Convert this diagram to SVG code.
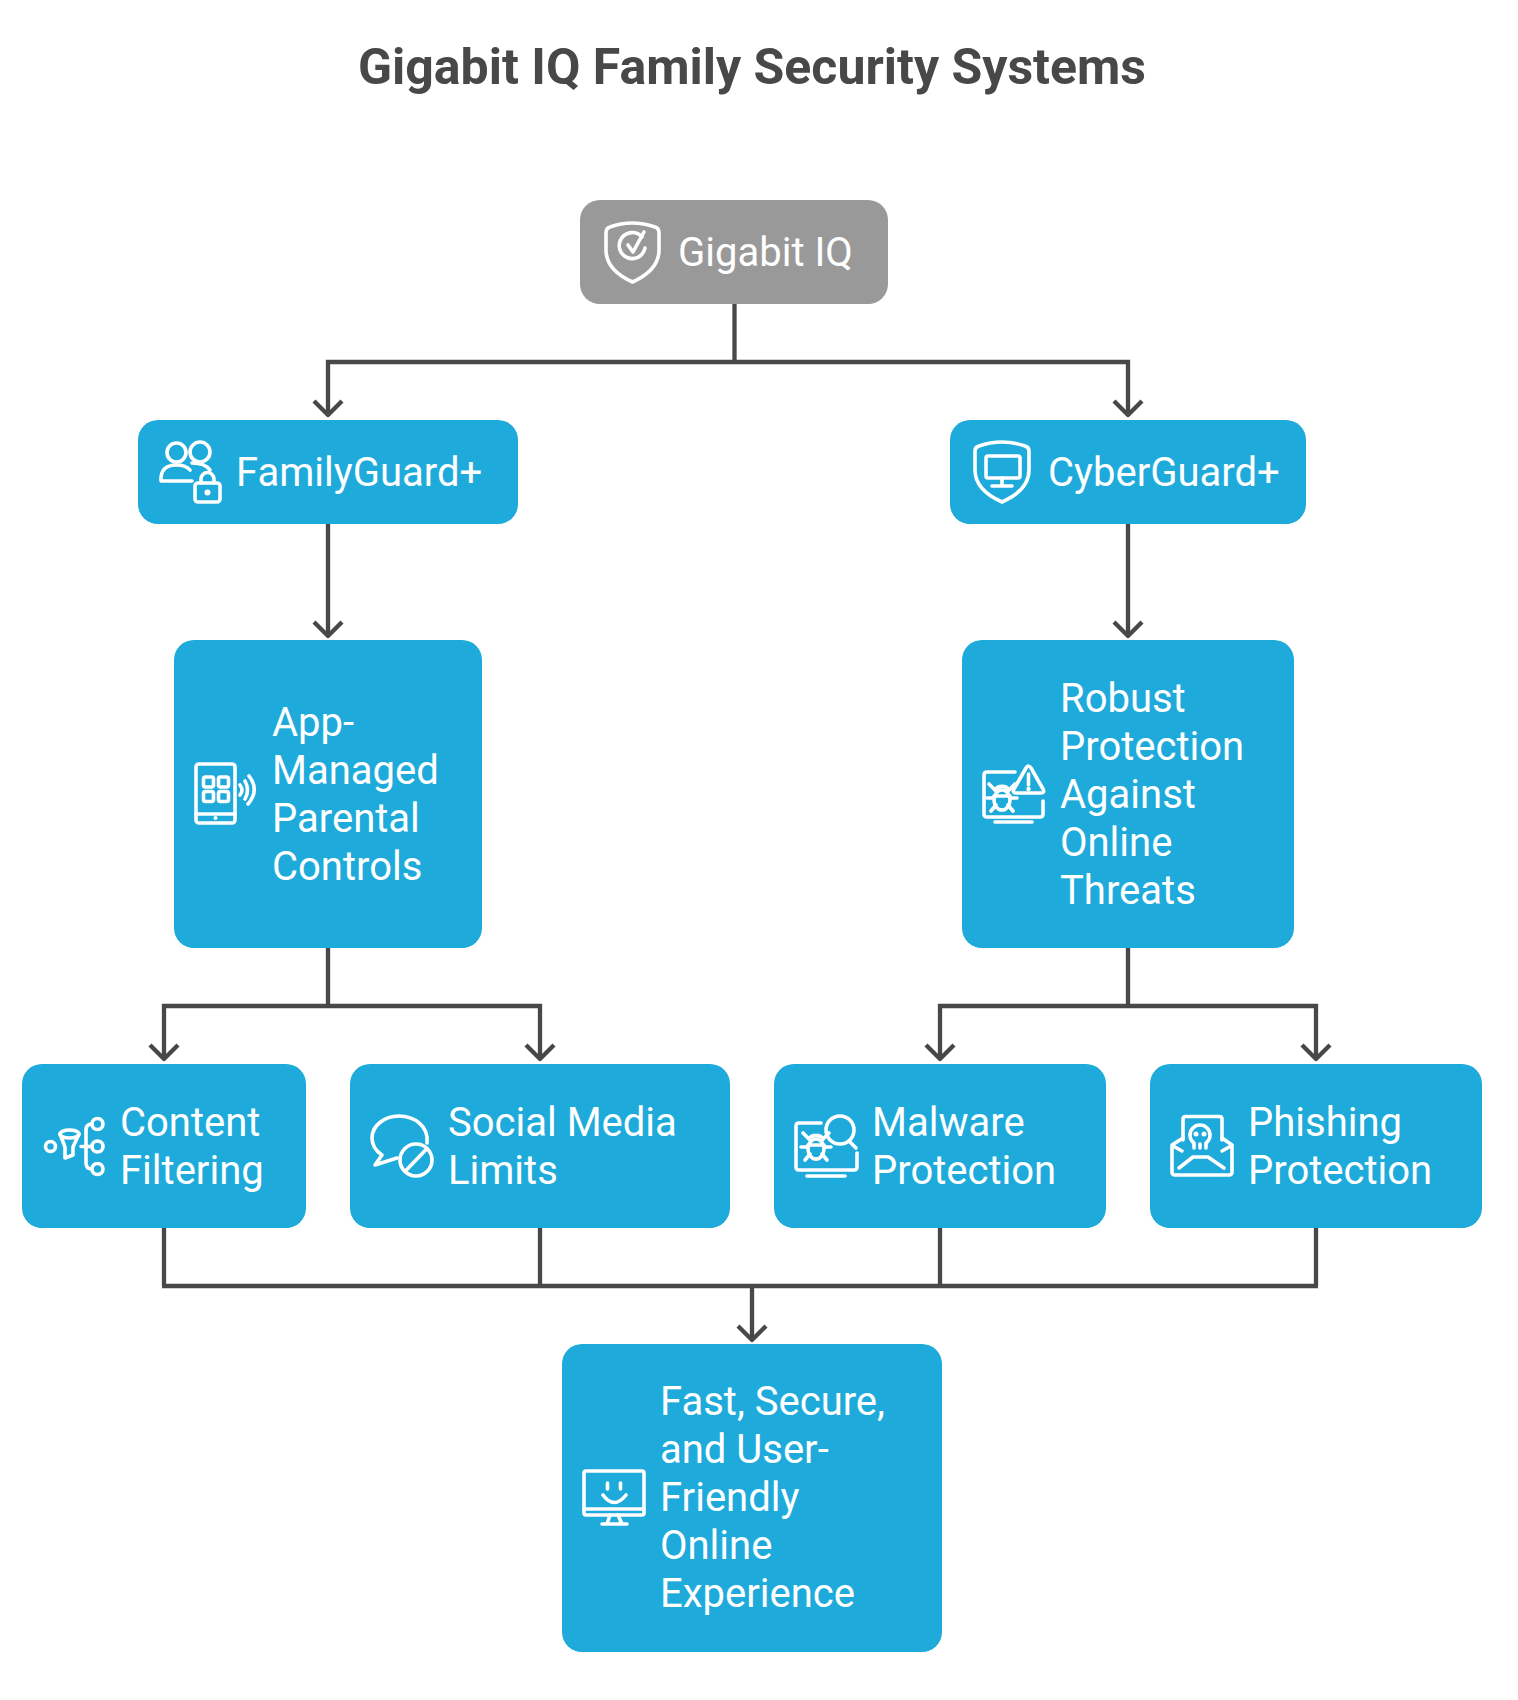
<svg xmlns="http://www.w3.org/2000/svg" width="1518" height="1700" viewBox="0 0 1518 1700">
<style>
text{font-family:Roboto,"Liberation Sans",sans-serif}
.t{font-size:40px;fill:#fff}
.title{font-size:50px;font-weight:700;fill:#484848}
.b{fill:#1eabdb}
.g{fill:#999}
.i{fill:none;stroke:#fff;stroke-width:3.6;stroke-linecap:round;stroke-linejoin:round}
.f{fill:#fff;stroke:none}
.c{fill:none;stroke:#484848;stroke-width:4.3}
.a{fill:none;stroke:#484848;stroke-width:4.3;stroke-linecap:butt;stroke-linejoin:round}
</style>
<defs>
<g id="bug" class="i">
<path d="M-7,-9 a8,7 0 0 1 14,0"/><ellipse cx="0" cy="1" rx="8" ry="10"/><path d="M-8,-3H8"/><path d="M-15,-1h7M8,-1h7M-13,-15l7,7M13,-15l-7,7M-11,12l5,-6M11,12l-5,-6"/>
</g>
</defs>
<rect width="1518" height="1700" fill="#fff"/>
<text id="title" class="title" x="752" y="84" text-anchor="middle">Gigabit IQ Family Security Systems</text>
<g id="connectors">
<path class="c" d="M734.500,304V362M328,414V362H1128V414M328,524V636M1128,524V636M328,948V1006M164,1058V1006H540V1058M1128,948V1006M940,1058V1006H1316V1058M164,1228V1286M540,1228V1286M940,1228V1286M1316,1228V1286M162,1286H1318M752,1286V1339"/>
<path class="a" d="M314,401l14,14l14,-14M1114,401l14,14l14,-14M314,622l14,14l14,-14M1114,622l14,14l14,-14M150,1045l14,14l14,-14M526,1045l14,14l14,-14M926,1045l14,14l14,-14M1302,1045l14,14l14,-14M738,1326l14,14l14,-14"/>
</g>
<g id="node-gigabit">
<rect class="g" x="580" y="200" width="308" height="104" rx="20"/>
<path class="i" d="M606,233Q606,228 610,227Q632,219 655,227Q659,228 659,233V250Q659,270 632.500,282Q606,270 606,250Z"/>
<path class="i" d="M642,237A13,13 0 1 0 645,248"/><path class="i" d="M628,245l5,7l11,-20"/>
<text class="t" x="678" y="266">Gigabit IQ</text>
</g>
<g id="node-familyguard">
<rect class="b" x="138" y="420" width="380" height="104" rx="20"/>
<g class="i"><circle cx="176.500" cy="452.500" r="9.500"/><circle cx="200" cy="452" r="10"/><path d="M192,481H161Q160,465 176.500,465Q186,465 190,470"/><path d="M192,463Q205,463 210,470"/><rect x="195" y="483" width="25" height="19" rx="3"/><path d="M201,483V479A6.500,6.500 0 0 1 214,479V483"/></g>
<circle class="f" cx="207.500" cy="492.500" r="3"/>
<text class="t" x="236" y="486">FamilyGuard+</text>
</g>
<g id="node-cyberguard">
<rect class="b" x="950" y="420" width="356" height="104" rx="20"/>
<g class="i"><path d="M975,451Q975,447 979,446Q1002,438 1025,446Q1029,447 1029,451V470Q1029,490 1002,502Q975,490 975,470Z"/><rect x="986" y="456" width="34" height="22" rx="2"/><path d="M1002,478V485M992,486H1012"/></g>
<text class="t" x="1048" y="486">CyberGuard+</text>
</g>
<g id="node-app">
<rect class="b" x="174" y="640" width="308" height="308" rx="20"/>
<g class="i"><rect x="196" y="764" width="39" height="59" rx="3"/><path d="M196,814H235"/><rect x="203.500" y="777" width="10" height="10" rx="2"/><rect x="218.500" y="777" width="10" height="10" rx="2"/><rect x="203.500" y="791.500" width="10" height="10" rx="2"/><rect x="218.500" y="791.500" width="10" height="10" rx="2"/><path d="M240,785Q244,790 240,795M245,781Q250,790 245,799M249,776Q260,790 248,804"/></g>
<circle class="f" cx="215.500" cy="818" r="2"/>
<text class="t"><tspan x="272" y="736">App-</tspan><tspan x="272" y="784">Managed</tspan><tspan x="272" y="832">Parental</tspan><tspan x="272" y="880">Controls</tspan></text>
</g>
<g id="node-robust">
<rect class="b" x="962" y="640" width="332" height="308" rx="20"/>
<g class="i"><path d="M1015,772H987Q984,772 984,775V814Q984,817 987,817H1040Q1043,817 1043,814V801M995,822H1032"/><path d="M1026,768Q1028,764 1031,768L1043,789Q1045,793 1041,793H1016Q1012,793 1014,789Z"/><path d="M1028.500,774V785"/></g>
<circle class="f" cx="1028.500" cy="789" r="2.200"/>
<use href="#bug" x="1002" y="799"/>
<text class="t"><tspan x="1060" y="712">Robust</tspan><tspan x="1060" y="760">Protection</tspan><tspan x="1060" y="808">Against</tspan><tspan x="1060" y="856">Online</tspan><tspan x="1060" y="904">Threats</tspan></text>
</g>
<g id="node-content">
<rect class="b" x="22" y="1064" width="284" height="164" rx="20"/>
<g class="i"><circle cx="50.500" cy="1146.500" r="5"/><ellipse cx="69.500" cy="1134" rx="9.500" ry="4"/><path d="M60,1134L65,1147V1158L73,1155V1147L79,1134"/><circle cx="97.500" cy="1124" r="5.500"/><circle cx="97.500" cy="1146.500" r="5.500"/><circle cx="97.500" cy="1169" r="5.500"/><path d="M92,1124Q86,1124 86,1130V1163Q86,1169 92,1169M81,1146.500H92"/></g>
<text class="t"><tspan x="120" y="1136">Content</tspan><tspan x="120" y="1184">Filtering</tspan></text>
</g>
<g id="node-social">
<rect class="b" x="350" y="1064" width="380" height="164" rx="20"/>
<g class="i"><path d="M427,1143C429,1126 414,1116 399,1116C384,1116 372,1126 372,1138C372,1146 376,1151 382,1155L375,1165L397,1158"/><circle cx="416" cy="1160" r="16"/><path d="M405,1171.500L427,1148.500"/></g>
<text class="t"><tspan x="448" y="1136">Social Media</tspan><tspan x="448" y="1184">Limits</tspan></text>
</g>
<g id="node-malware">
<rect class="b" x="774" y="1064" width="332" height="164" rx="20"/>
<g class="i"><path d="M821,1123H799Q796,1123 796,1126V1167Q796,1170 799,1170H854Q857,1170 857,1167V1153M807,1176H845"/><circle cx="840" cy="1130" r="14"/><path d="M849,1141L856,1148"/></g>
<use href="#bug" x="816" y="1148"/>
<text class="t"><tspan x="872" y="1136">Malware</tspan><tspan x="872" y="1184">Protection</tspan></text>
</g>
<g id="node-phishing">
<rect class="b" x="1150" y="1064" width="332" height="164" rx="20"/>
<g class="i"><path d="M1183,1140V1119Q1183,1116.500 1186,1116.500H1219Q1222,1116.500 1222,1119V1140"/><path d="M1183,1138L1172,1145V1172Q1172,1175 1175,1175H1229Q1232,1175 1232,1172V1145L1222,1138"/><path d="M1179,1168L1193,1157H1208L1224,1168"/><path d="M1173,1146L1182,1151M1231,1146L1222,1151"/><path d="M1194,1148V1143Q1190,1140 1190,1135A10,10 0 0 1 1210,1135Q1210,1140 1206,1143V1148M1200,1144V1148"/></g>
<circle class="f" cx="1196" cy="1134" r="2.500"/><circle class="f" cx="1204" cy="1134" r="2.500"/>
<text class="t"><tspan x="1248" y="1136">Phishing</tspan><tspan x="1248" y="1184">Protection</tspan></text>
</g>
<g id="node-experience">
<rect class="b" x="562" y="1344" width="380" height="308" rx="20"/>
<g class="i"><rect x="584" y="1471" width="60" height="44" rx="2"/><path d="M584,1509H644M610,1515L607,1524M618,1515L622,1524M602,1524H627M607.500,1483V1489M620.500,1483V1489M603,1495Q614,1510 626,1495"/></g>
<text class="t"><tspan x="660" y="1415">Fast, Secure,</tspan><tspan x="660" y="1463">and User-</tspan><tspan x="660" y="1511">Friendly</tspan><tspan x="660" y="1559">Online</tspan><tspan x="660" y="1607">Experience</tspan></text>
</g>
</svg>
